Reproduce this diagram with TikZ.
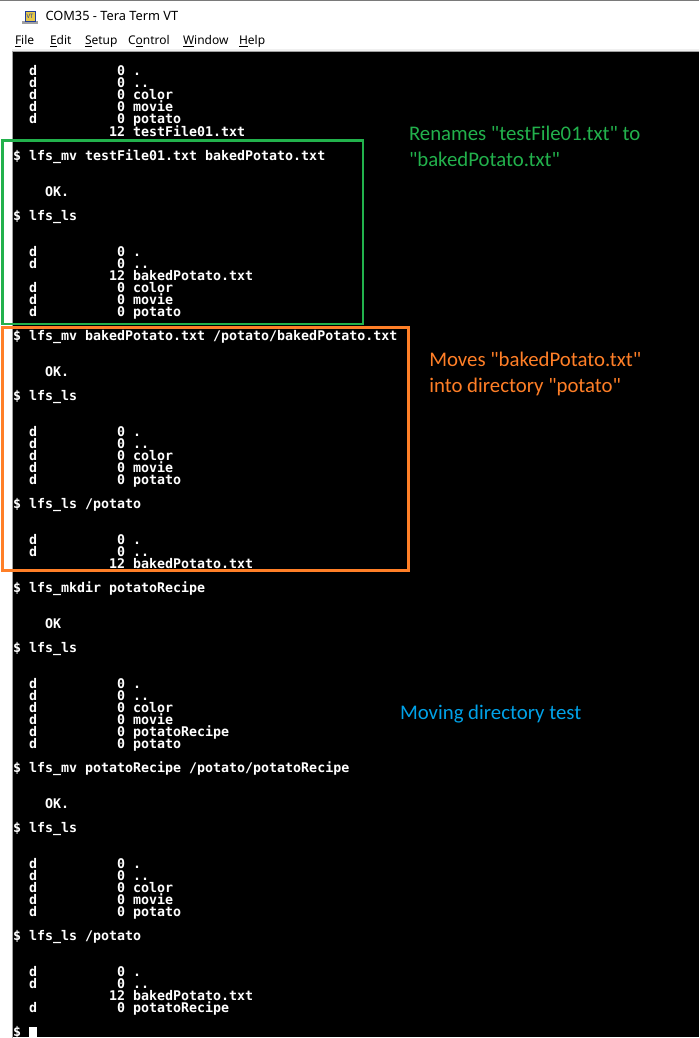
\documentclass[tikz,border=0pt]{standalone}
\usepackage{fontspec}
\setmainfont{Noto Sans}
\newfontfamily\termfont{DejaVu Sans Mono}
\newfontfamily\notefont{Carlito}
\newfontfamily\uifont{Noto Sans}
\definecolor{boxgreen}{HTML}{22B14C}
\definecolor{boxorange}{HTML}{FF7F27}
\definecolor{noteblue}{HTML}{00A2E8}
\definecolor{framegray}{HTML}{A0A0A0}
\definecolor{topgray}{HTML}{7A7A7A}
\definecolor{menuline}{HTML}{F0F0F0}
\definecolor{icony}{HTML}{E6C84A}
\definecolor{iconb}{HTML}{1E3C9C}
\tikzset{
  term/.style={anchor=base west, inner sep=0pt, outer sep=0pt, text=white,
    font=\termfont\bfseries\fontsize{13.3}{13.3}\selectfont},
  note/.style={anchor=base west, inner sep=0pt, outer sep=0pt,
    font=\notefont\fontsize{20.8}{25}\selectfont},
  ui/.style={anchor=base west, inner sep=0pt, outer sep=0pt, text=black,
    font=\uifont\fontsize{12}{12}\selectfont},
  hlbox/.style={line width=2.8pt}
}
\newcommand\tl[3]{\node[term] (r#1c#2) at ({13+8*#2},{76+12*#1}) {#3};}
\newcommand\lsd[3]{\tl{#1}{2}{d}\tl{#1}{13}{0}\tl{#1}{15}{#3}}
\newcommand\lsf[2]{\tl{#1}{12}{12}\tl{#1}{15}{#2}}
\begin{document}
\begin{tikzpicture}[x=1pt,y=-1pt]
\useasboundingbox (0,0) rectangle (699,1038);
% window chrome
\fill[white] (0,0) rectangle (699,1038);
\draw[topgray, line width=1.2pt] (0,0.6) -- (699,0.6);
% icon
\fill[framegray] (22,21.5) rectangle (38,24);
\fill[icony, draw=iconb, line width=0.6pt] (25,11) rectangle (35,21);
\node[inner sep=0pt, text=iconb, font=\uifont\bfseries\fontsize{6}{6}\selectfont] (icon) at (30,16) {VT};
\node[ui, font=\uifont\fontsize{12.8}{12.8}\selectfont] (title) at (45.5,21) {COM35 - Tera Term VT};
% menu
\node[ui] (mfile) at (15,45) {\underline{F}ile};
\node[ui] (medit) at (50,45) {\underline{E}dit};
\node[ui] (msetup) at (85,45) {\underline{S}etup};
\node[ui] (mcontrol) at (128,45) {C\underline{o}ntrol};
\node[ui] (mwindow) at (183,45) {\underline{W}indow};
\node[ui] (mhelp) at (239,45) {\underline{H}elp};
\fill[menuline] (12,49.5) rectangle (699,51);
\fill[framegray] (12,51) rectangle (699,52.5);
% terminal
\fill[black] (13,52.5) rectangle (699,1037);
\fill[framegray] (11.8,52.5) rectangle (13,1038);
% listing 1
\lsd{0}{}{.}\lsd{1}{}{..}\lsd{2}{}{color}\lsd{3}{}{movie}\lsd{4}{}{potato}
\lsf{5}{testFile01.txt}
\tl{7}{0}{\$ lfs\_mv testFile01.txt bakedPotato.txt}
\tl{10}{4}{OK.}
\tl{12}{0}{\$ lfs\_ls}
\lsd{15}{}{.}\lsd{16}{}{..}\lsf{17}{bakedPotato.txt}
\lsd{18}{}{color}\lsd{19}{}{movie}\lsd{20}{}{potato}
\tl{22}{0}{\$ lfs\_mv bakedPotato.txt /potato/bakedPotato.txt}
\tl{25}{4}{OK.}
\tl{27}{0}{\$ lfs\_ls}
\lsd{30}{}{.}\lsd{31}{}{..}\lsd{32}{}{color}\lsd{33}{}{movie}\lsd{34}{}{potato}
\tl{36}{0}{\$ lfs\_ls /potato}
\lsd{39}{}{.}\lsd{40}{}{..}\lsf{41}{bakedPotato.txt}
\tl{43}{0}{\$ lfs\_mkdir potatoRecipe}
\tl{46}{4}{OK}
\tl{48}{0}{\$ lfs\_ls}
\lsd{51}{}{.}\lsd{52}{}{..}\lsd{53}{}{color}\lsd{54}{}{movie}\lsd{55}{}{potatoRecipe}\lsd{56}{}{potato}
\tl{58}{0}{\$ lfs\_mv potatoRecipe /potato/potatoRecipe}
\tl{61}{4}{OK.}
\tl{63}{0}{\$ lfs\_ls}
\lsd{66}{}{.}\lsd{67}{}{..}\lsd{68}{}{color}\lsd{69}{}{movie}\lsd{70}{}{potato}
\tl{72}{0}{\$ lfs\_ls /potato}
\lsd{75}{}{.}\lsd{76}{}{..}\lsf{77}{bakedPotato.txt}\lsd{78}{}{potatoRecipe}
\tl{80}{0}{\$}
\fill[white] (29,1026.5) rectangle (36.5,1037);
% highlight boxes
\draw[hlbox, boxgreen] (2.8,140.5) rectangle (363,324);
\draw[hlbox, boxorange] (2.8,327.5) rectangle (408.5,570.5);
% notes
\node[note, text=boxgreen] (ren1) at (409,140.5) {Renames "testFile01.txt" to};
\node[note, text=boxgreen] (ren2) at (409,166) {"bakedPotato.txt"};
\node[note, text=boxorange] (mov1) at (429.3,366.5) {Moves "bakedPotato.txt"};
\node[note, text=boxorange] (mov2) at (429.3,392.5) {into directory "potato"};
\node[note, text=noteblue] (mdt) at (400,719.5) {Moving directory test};
\end{tikzpicture}
\end{document}
